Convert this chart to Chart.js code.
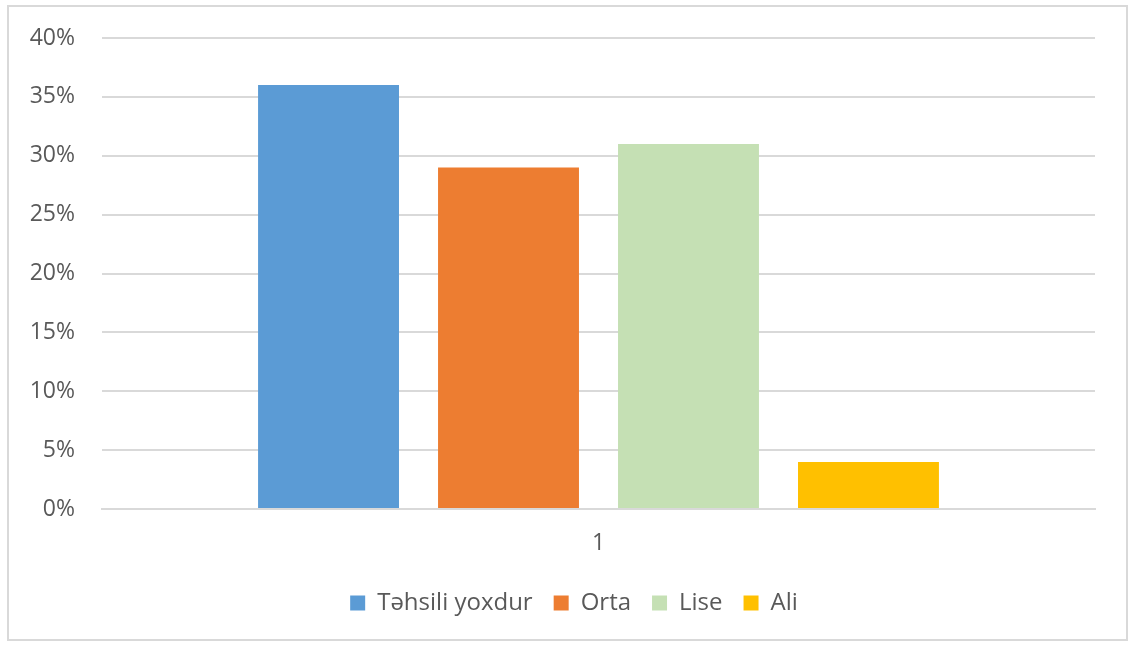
<!DOCTYPE html>
<html>
<head>
<meta charset="utf-8">
<script src="https://cdn.jsdelivr.net/npm/chart.js@4"></script>
<style>
  html, body { margin: 0; padding: 0; background: #fff; }
  #wrap {
    position: absolute; left: 7px; top: 5px;
    width: 1117px; height: 632px;
    border: 2px solid #d9d9d9;
  }
</style>
</head>
<body>
<div id="wrap"><canvas id="chart"></canvas></div>
<script>
const categories = ["1"];
const seriesNames = ["Təhsili yoxdur", "Orta", "Lise", "Ali"];
const seriesValues = [[36], [29], [31], [4]];
const seriesColors = ["#5B9BD5", "#ED7D31", "#C5E0B4", "#FFC000"];
const yTicks = [0, 5, 10, 15, 20, 25, 30, 35, 40];

const FONT = "'Open Sans', 'Segoe UI', sans-serif";
const TEXT = "#595959";

// legend sits centred on the whole frame, not on the plot area
const legendShift = {
  id: "legendShift",
  afterLayout(chart) {
    chart.legend.left += 22;
    chart.legend.right += 22;
  }
};

new Chart(document.getElementById("chart"), {
  type: "bar",
  data: {
    labels: categories,
    datasets: seriesNames.map((name, i) => ({
      label: name,
      data: seriesValues[i],
      backgroundColor: seriesColors[i],
      borderWidth: 0,
      categoryPercentage: 0.725,
      barPercentage: 0.783
    }))
  },
  options: {
    responsive: true,
    maintainAspectRatio: false,
    animation: false,
    layout: { padding: { left: 0, right: 31, top: 31, bottom: 14 } },
    plugins: {
      tooltip: { enabled: false },
      legend: {
        position: "bottom",
        labels: {
          color: TEXT,
          font: { family: FONT, size: 24 },
          boxWidth: 15,
          boxHeight: 15,
          padding: 21
        }
      }
    },
    scales: {
      x: {
        grid: { display: false, drawTicks: false },
        border: { display: true, color: "#d9d9d9", width: 2 },
        ticks: { color: TEXT, font: { family: FONT, size: 23 }, padding: 21 },
        afterFit: (s) => { s.height = 61; }
      },
      y: {
        min: 0,
        max: 40,
        afterBuildTicks: (s) => { s.ticks = yTicks.map(v => ({ value: v })); },
        afterFit: (s) => { s.width = 93; s.paddingTop = 0; s.paddingBottom = 0; },
        grid: { color: "#d9d9d9", lineWidth: 2, drawTicks: false },
        border: { display: false },
        ticks: {
          color: TEXT,
          font: { family: FONT, size: 23 },
          padding: 27,
          callback: (v) => v + "%"
        }
      }
    }
  },
  plugins: [legendShift]
});
</script>
</body>
</html>
